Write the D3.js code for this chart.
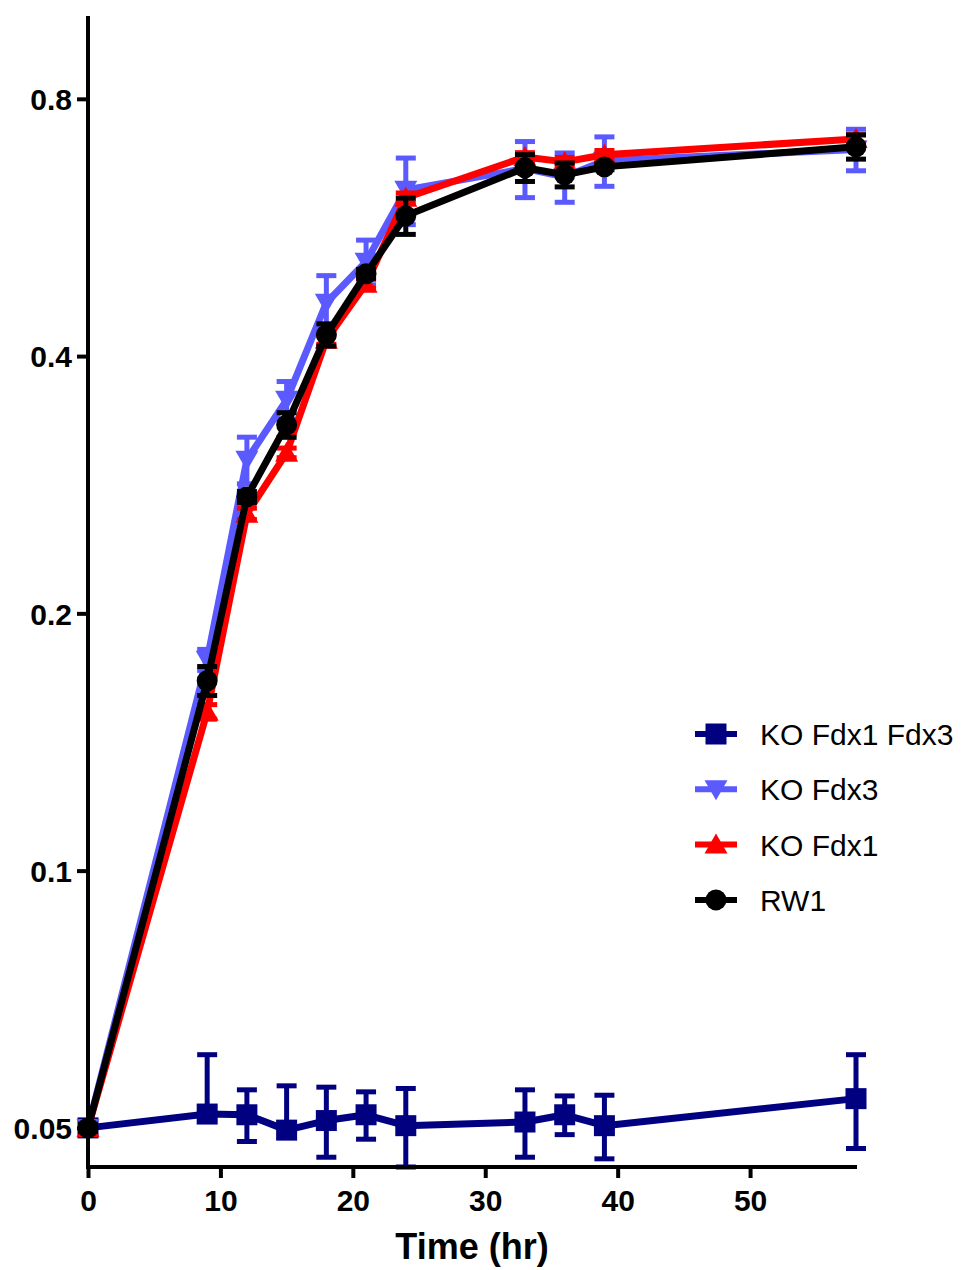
<!DOCTYPE html>
<html>
<head>
<meta charset="utf-8">
<script src="https://cdn.jsdelivr.net/npm/d3@7"></script>
<style>
  html, body { margin: 0; padding: 0; background: #fff; }
  svg { display: block; }
</style>
</head>
<body>
<div id="chart"></div>
<script>
// Sampling times (hr)
const times = [0, 9, 12, 15, 18, 21, 24, 33, 36, 39, 58];

// Mean OD and standard deviation for each strain
const koFdx1Fdx3 = [0.0500, 0.0519, 0.0518, 0.0497, 0.0510, 0.0518, 0.0503, 0.0508, 0.0518, 0.0503, 0.0541];
const koFdx1Fdx3Sd = [0.0005, 0.0090, 0.0036, 0.0063, 0.0048, 0.0033, 0.0053, 0.0046, 0.0027, 0.0043, 0.0068];

const koFdx3 = [0.0500, 0.1765, 0.3025, 0.3555, 0.4618, 0.5157, 0.6260, 0.6630, 0.6484, 0.6770, 0.6980];
const koFdx3Sd = [0.0005, 0.0050, 0.0190, 0.0180, 0.0350, 0.0310, 0.0560, 0.0500, 0.0430, 0.0450, 0.0390];

const koFdx1 = [0.0500, 0.1534, 0.2615, 0.3082, 0.4179, 0.4860, 0.6128, 0.6840, 0.6750, 0.6880, 0.7180];
const koFdx1Sd = [0.0005, 0.0030, 0.0040, 0.0040, 0.0050, 0.0060, 0.0080, 0.0080, 0.0080, 0.0080, 0.0080];

const rw1 = [0.0500, 0.1668, 0.2737, 0.3324, 0.4236, 0.4992, 0.5837, 0.6643, 0.6520, 0.6660, 0.7030];
const rw1Sd = [0.0005, 0.0065, 0.0040, 0.0110, 0.0127, 0.0060, 0.0285, 0.0240, 0.0210, 0.0050, 0.0230];

const seriesNames = ["KO Fdx1 Fdx3", "KO Fdx3", "KO Fdx1", "RW1"];
const seriesColors = ["#000080", "#5a5aff", "#ff0000", "#000000"];
const seriesShapes = ["square", "triangleDown", "triangleUp", "circle"];
const seriesMeans = [koFdx1Fdx3, koFdx3, koFdx1, rw1];
const seriesSds = [koFdx1Fdx3Sd, koFdx3Sd, koFdx1Sd, rw1Sd];

const xTicks = [0, 10, 20, 30, 40, 50];
const yTicks = [0.05, 0.1, 0.2, 0.4, 0.8];
const yTickLabels = ["0.05", "0.1", "0.2", "0.4", "0.8"];
const xTitle = "Time (hr)";

const W = 962, H = 1270;
const svg = d3.select("#chart").append("svg")
  .attr("width", W).attr("height", H);

const x = d3.scaleLinear().domain([0, 58]).range([88, 856]);
const y = d3.scaleLog().base(2).domain([0.045, 1.0]).range([1167, 16]);
const yMin = y.domain()[0];

const font = "'Liberation Sans', Arial, Helvetica, sans-serif";

// marker shapes, drawn centred on the data point
function markerPath(shape) {
  switch (shape) {
    case "square": return "M-10.5,-10.5H10.5V10.5H-10.5Z";
    case "triangleUp": return "M0,-11L11.5,9H-11.5Z";
    case "triangleDown": return "M0,11L11.5,-9H-11.5Z";
    default: return d3.symbol(d3.symbolCircle, Math.PI * 110)();
  }
}

const line = d3.line().x(d => x(d.t)).y(d => y(d.v));

seriesNames.forEach((name, i) => {
  const pts = times.map((t, j) => ({ t, v: seriesMeans[i][j], sd: seriesSds[i][j] }));
  const color = seriesColors[i];
  const g = svg.append("g").attr("class", "series");

  // error bars: mean ± SD, the part below the axis floor is left out
  const eb = g.append("g").attr("stroke", color).attr("stroke-width", 5).attr("fill", "none");
  pts.forEach(p => {
    const yc = y(p.v);
    const hi = p.v + p.sd, lo = p.v - p.sd;
    const yHi = y(hi);
    eb.append("line").attr("x1", x(p.t)).attr("x2", x(p.t)).attr("y1", yc).attr("y2", yHi);
    eb.append("line").attr("x1", x(p.t) - 10).attr("x2", x(p.t) + 10).attr("y1", yHi).attr("y2", yHi);
    if (lo >= yMin * 0.995) {
      const yLo = Math.min(y(lo), y(yMin));
      eb.append("line").attr("x1", x(p.t)).attr("x2", x(p.t)).attr("y1", yc).attr("y2", yLo);
      eb.append("line").attr("x1", x(p.t) - 10).attr("x2", x(p.t) + 10).attr("y1", yLo).attr("y2", yLo);
    }
  });

  g.append("path").datum(pts)
    .attr("d", line)
    .attr("fill", "none")
    .attr("stroke", color)
    .attr("stroke-width", 7)
    .attr("stroke-linejoin", "round");

  g.selectAll("path.marker").data(pts).join("path")
    .attr("class", "marker")
    .attr("d", markerPath(seriesShapes[i]))
    .attr("transform", d => `translate(${x(d.t)},${y(d.v)})`)
    .attr("fill", color);
});

// axes
const yAxis = d3.axisLeft(y).tickValues(yTicks)
  .tickFormat((d, i) => yTickLabels[i]).tickSize(11).tickPadding(5);
const xAxis = d3.axisBottom(x).tickValues(xTicks)
  .tickFormat(d3.format("d")).tickSize(11).tickPadding(12);

const gy = svg.append("g").attr("transform", "translate(88,0)").call(yAxis);
const gx = svg.append("g").attr("transform", "translate(0,1167)").call(xAxis);

[gx, gy].forEach(g => {
  g.select(".domain").remove();
  g.selectAll(".tick line").attr("stroke", "#000").attr("stroke-width", 4);
  g.selectAll(".tick text")
    .attr("fill", "#000")
    .style("font-family", font)
    .style("font-weight", "bold")
    .style("font-size", "30px");
});
gy.selectAll(".tick text").attr("dy", "0.36em");

// axis lines
svg.append("line").attr("x1", 88).attr("x2", 88).attr("y1", 16).attr("y2", 1169)
  .attr("stroke", "#000").attr("stroke-width", 4);
svg.append("line").attr("x1", 86).attr("x2", 857).attr("y1", 1167).attr("y2", 1167)
  .attr("stroke", "#000").attr("stroke-width", 4);

svg.append("text")
  .attr("x", (x.range()[0] + x.range()[1]) / 2)
  .attr("y", 1259)
  .attr("text-anchor", "middle")
  .style("font-family", font)
  .style("font-weight", "bold")
  .style("font-size", "36px")
  .text(xTitle);

// legend
const legend = svg.append("g").attr("transform", "translate(695,734)");
seriesNames.forEach((name, i) => {
  const row = legend.append("g").attr("transform", `translate(0,${i * 55.3})`);
  row.append("line").attr("x1", 0).attr("x2", 42).attr("y1", 0).attr("y2", 0)
    .attr("stroke", seriesColors[i]).attr("stroke-width", 6);
  row.append("path").attr("d", markerPath(seriesShapes[i]))
    .attr("transform", "translate(21,0)").attr("fill", seriesColors[i]);
  row.append("text").attr("x", 65).attr("y", 11)
    .style("font-family", font)
    .style("font-size", "30px")
    .attr("fill", "#000")
    .text(name);
});
</script>
</body>
</html>
